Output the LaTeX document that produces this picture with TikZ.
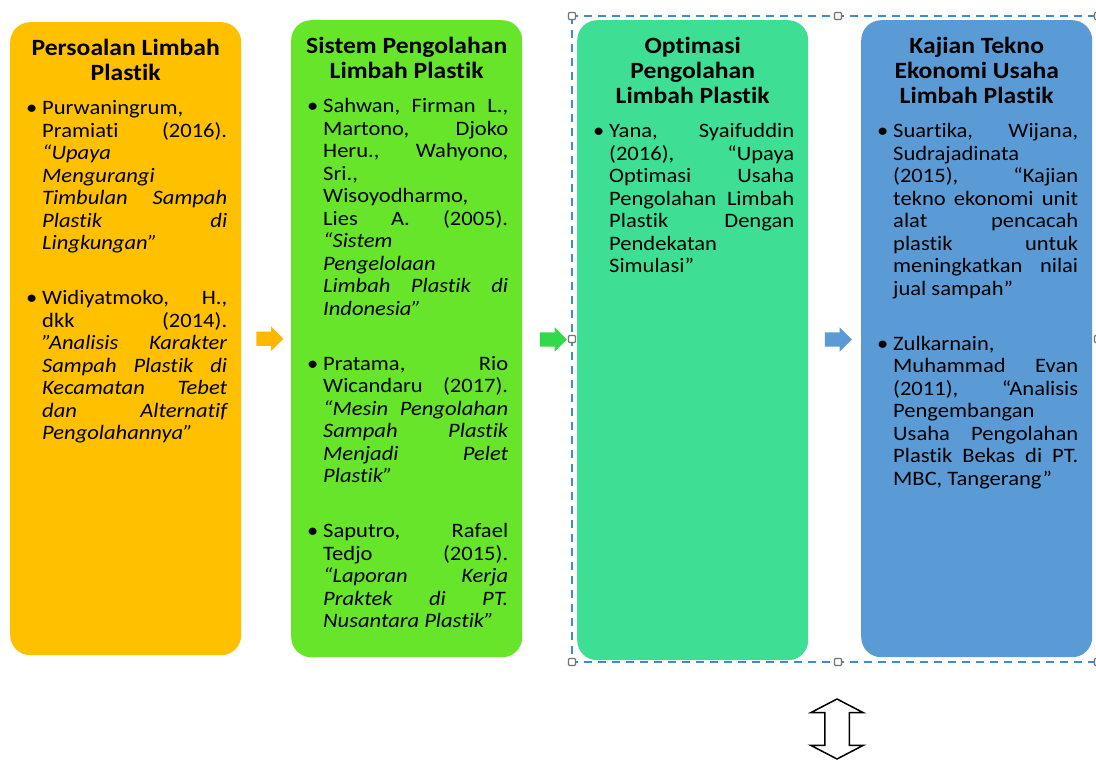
\documentclass[tikz,border=0pt]{standalone}
\usepackage{fontspec}
\setmainfont{Carlito}[FakeStretch=1.1, Ligatures={TeX,NoCommon}]
\usepackage{xcolor}
\usetikzlibrary{shapes.arrows, calc}

\definecolor{persoalanfill}{HTML}{FFC000}
\definecolor{sistemfill}{HTML}{66E52A}
\definecolor{optimasifill}{HTML}{3EDF94}
\definecolor{kajianfill}{HTML}{5B9BD5}
\definecolor{arroworange}{HTML}{FFB800}
\definecolor{arrowgreen}{HTML}{33D94A}
\definecolor{selectblue}{HTML}{3F8AD8}
\definecolor{handlegray}{HTML}{737373}

%% text helpers
\newcommand{\headfont}{\fontsize{23.3}{25}\selectfont\bfseries}
\newcommand{\bodyfont}{\fontsize{20.5}{22.5}\selectfont}
\newcommand{\stagetext}[3]{% height, title, references
  \parbox[c][#1][t]{231pt}{%
    \hyphenpenalty=10000 \tolerance=10000 \hbadness=10000 \frenchspacing
    \vspace*{17pt}%
    {\centering\headfont #2\par}%
    \vspace{11.5pt}%
    \bodyfont\leftskip=32pt \rightskip=14pt
    #3\par}}
\newcommand{\refitem}{\par\noindent\llap{\makebox[16pt][l]{\textbullet}}}
\newcommand{\refgap}{\par\vspace{32.5pt}}

\begin{document}
\begin{tikzpicture}[
  x=1pt, y=-1pt,
  stage/.style={rounded corners=20pt, inner sep=0pt, anchor=north west, text=black},
  flowarrow/.style={single arrow, draw=none, inner xsep=0pt, inner ysep=7pt,
    minimum height=27pt, single arrow head extend=5pt, single arrow tip angle=90},
  handle/.style={draw=handlegray, fill=white, line width=1.2pt, rounded corners=1pt}
]

%% Parameters
\def\W{1096}  % picture width
\def\H{760}   % picture height

\useasboundingbox (0,0) rectangle (\W,\H);
\fill[white] (0,0) rectangle (\W,\H);

%% ---- Selection frame ----
\draw[selectblue, line width=2.2pt, dash pattern=on 8pt off 6pt]
  (572,16) rectangle (1098,662);

%% ---- Stages ----
\node[stage, fill=persoalanfill] (persoalan) at (10,22) {\stagetext{633pt}
  {Persoalan Limbah\\Plastik}
  {\refitem Purwaningrum, \linebreak Pramiati (2016). \linebreak
   \textit{“Upaya \linebreak Mengurangi \linebreak Timbulan Sampah \linebreak
   Plastik di \linebreak Lingkungan”}
   \refgap
   \refitem Widiyatmoko, H., \linebreak dkk (2014). \linebreak
   \textit{"Analisis Karakter \linebreak Sampah Plastik di \linebreak
   Kecamatan Tebet \linebreak dan Alternatif \linebreak Pengolahannya"}}};

\node[stage, fill=sistemfill] (sistem) at (291,20) {\stagetext{637pt}
  {Sistem Pengolahan\\Limbah Plastik}
  {\refitem Sahwan, Firman L., \linebreak Martono, Djoko \linebreak
   Heru., Wahyono, \linebreak Sri., \linebreak Wisoyodharmo, \linebreak
   Lies A. (2005). \linebreak \textit{“Sistem \linebreak Pengelolaan \linebreak
   Limbah Plastik di \linebreak Indonesia”}
   \refgap
   \refitem Pratama, Rio \linebreak Wicandaru (2017). \linebreak
   \textit{“Mesin Pengolahan \linebreak Sampah Plastik \linebreak
   Menjadi Pelet \linebreak Plastik”}
   \refgap
   \refitem Saputro, Rafael \linebreak Tedjo (2015). \linebreak
   \textit{“Laporan Kerja \linebreak Praktek di PT. \linebreak
   Nusantara Plastik”}}};

\node[stage, fill=optimasifill] (optimasi) at (577,20) {\stagetext{640pt}
  {Optimasi\\Pengolahan\\Limbah Plastik}
  {\refitem Yana, Syaifuddin \linebreak (2016), “Upaya \linebreak
   Optimasi Usaha \linebreak Pengolahan Limbah \linebreak Plastik Dengan \linebreak
   Pendekatan \linebreak Simulasi”}};

\node[stage, fill=kajianfill] (kajian) at (861,20) {\stagetext{637pt}
  {Kajian Tekno\\Ekonomi Usaha\\Limbah Plastik}
  {\refitem Suartika, Wijana, \linebreak Sudrajadinata \linebreak
   (2015), “Kajian \linebreak tekno ekonomi unit \linebreak alat pencacah \linebreak
   plastik untuk \linebreak meningkatkan nilai \linebreak jual sampah”
   \refgap
   \refitem Zulkarnain, \linebreak Muhammad Evan \linebreak (2011), “Analisis \linebreak
   Pengembangan \linebreak Usaha Pengolahan \linebreak Plastik Bekas di PT. \linebreak
   MBC, Tangerang”}};

%% ---- Arrows between stages ----
\node[flowarrow, fill=arroworange] (arrA) at ($(persoalan.east)!0.5!(sistem.west)$) {};
\node[flowarrow, fill=arrowgreen]  (arrB) at ($(sistem.east)!0.5!(optimasi.west)$) {};
\node[flowarrow, fill=kajianfill]  (arrC) at ($(optimasi.east)!0.5!(kajian.west)$) {};

%% ---- Selection handles ----
\foreach \hx/\hy in {572/16, 838/16, 1098/16, 572/339, 1098/339, 572/662, 838/662, 1098/662}{
  \draw[handle] (\hx-3.5,\hy-3.5) rectangle (\hx+3.5,\hy+3.5);
}

%% ---- Up-down arrow ----
\node[double arrow, draw=black, fill=white, line width=1.5pt, rotate=90,
      minimum height=60pt, inner xsep=0pt, inner ysep=11.5pt,
      double arrow head extend=14pt, double arrow tip angle=125]
  (updown) at (837,729) {};

\end{tikzpicture}
\end{document}
